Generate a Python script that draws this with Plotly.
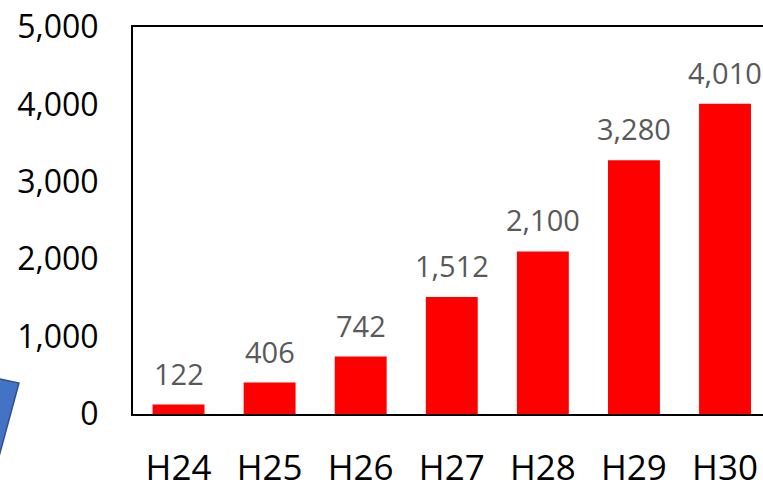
import plotly.graph_objects as go

categories = ["H24", "H25", "H26", "H27", "H28", "H29", "H30"]
values = [122, 406, 742, 1512, 2100, 3280, 4010]
y_ticks = [0, 1000, 2000, 3000, 4000, 5000]
y_tick_labels = ["0", "1,000", "2,000", "3,000", "4,000", "5,000"]

FONT = "Open Sans"

fig = go.Figure()
fig.add_trace(go.Bar(x=list(range(len(categories))), y=values,
                     marker=dict(color="#FF0000", line=dict(width=0)),
                     hoverinfo="skip"))

for i, v in enumerate(values):
    fig.add_annotation(x=i, y=v, text=f"{v:,}", showarrow=False,
                       xref="x", yref="y", yanchor="bottom", yshift=10,
                       font=dict(family=FONT, size=29, color="#595959"))

# blue callout fragment at bottom-left (paper coordinates)
W, H = 630.0, 387.0
def px(xp, yp):
    return (xp - 133) / W, (414 - yp) / H
pts = [(-20, 375), (19, 383), (-6, 475), (-20, 475)]
path = "M " + " L ".join(f"{px(a,b)[0]:.4f},{px(a,b)[1]:.4f}" for a, b in pts) + " Z"
fig.add_shape(type="path", xref="paper", yref="paper", path=path,
              fillcolor="#4472C4", line=dict(color="#2F528F", width=1.5), layer="above")

fig.update_layout(
    width=763, height=483,
    margin=dict(l=133, r=0, t=27, b=69, autoexpand=False),
    paper_bgcolor="white", plot_bgcolor="white",
    showlegend=False, bargap=0.43,
    font=dict(family=FONT, color="#000000"),
)
fig.update_xaxes(range=[-0.5, 6.417], tickvals=list(range(len(categories))),
                 ticktext=categories, showline=True, linecolor="black", linewidth=2,
                 mirror=True, showgrid=False, zeroline=False, ticks="",
                 tickfont=dict(family=FONT, size=35, color="#000000"),
                 ticklabelstandoff=22, automargin=False)
fig.update_yaxes(range=[0, 5000], tickvals=y_ticks, ticktext=y_tick_labels,
                 showline=True, linecolor="black", linewidth=2, mirror=False,
                 showgrid=False, zeroline=False, ticks="",
                 tickfont=dict(family=FONT, size=32, color="#000000"),
                 ticklabelstandoff=26, automargin=False)

fig.write_html("out.html", config={"displayModeBar": False, "staticPlot": True},
               post_script="document.body.style.margin='0';document.body.style.overflow='hidden';")
